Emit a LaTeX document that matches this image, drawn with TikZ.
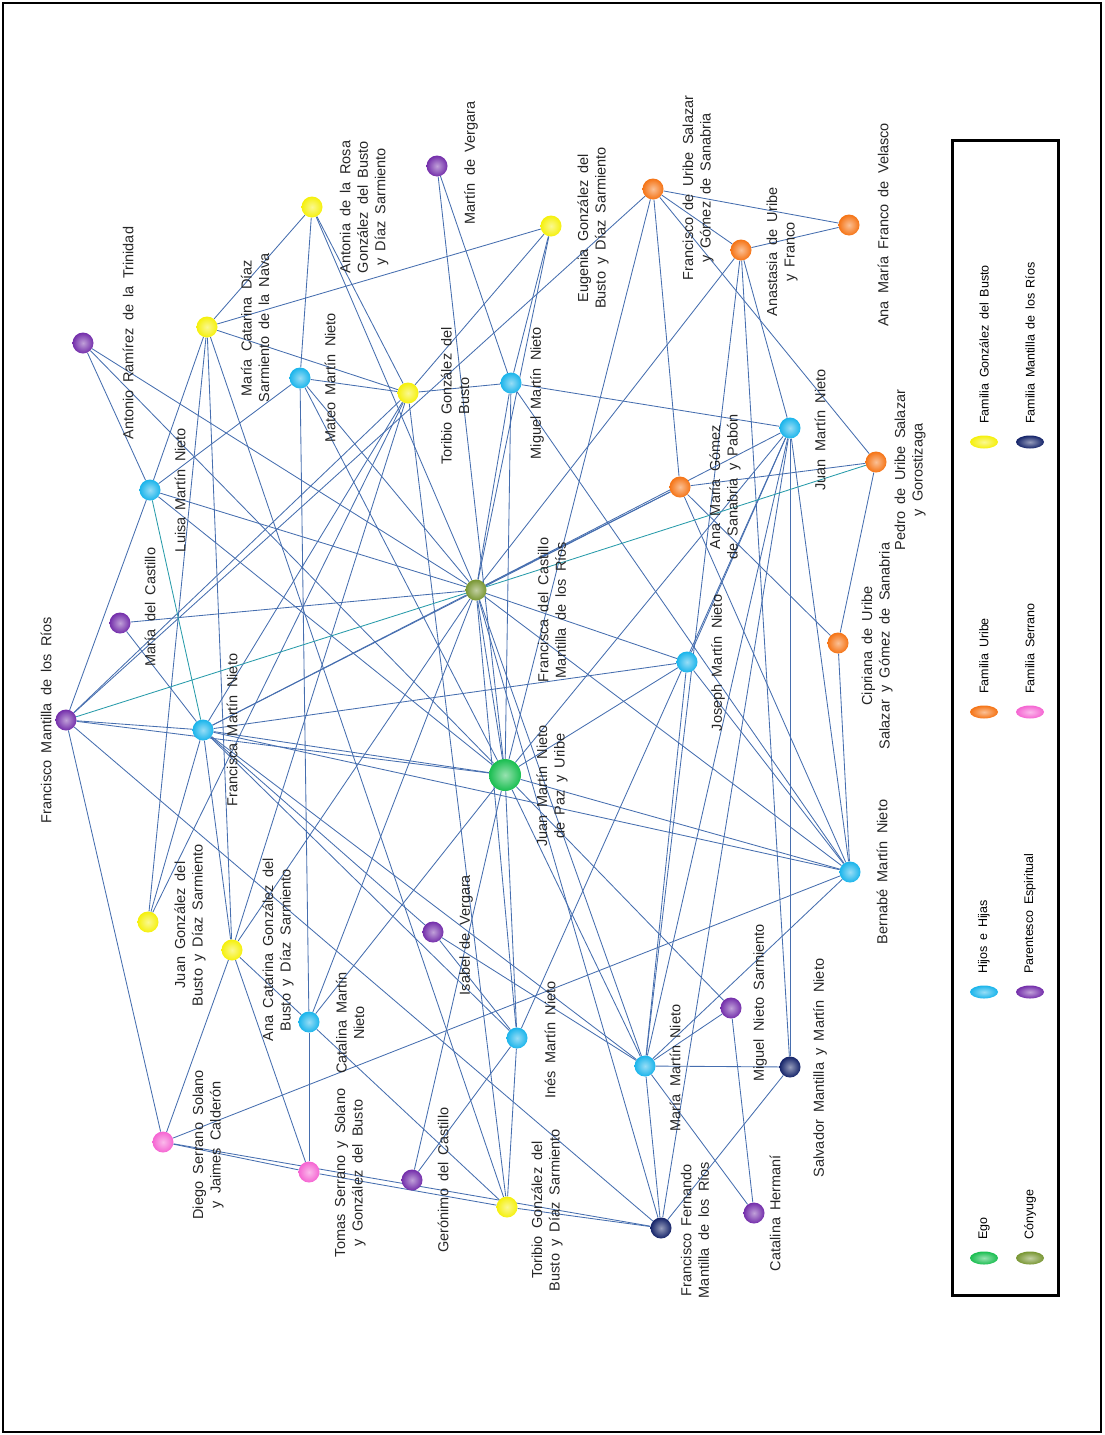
\documentclass[tikz,border=0pt]{standalone}
\usepackage{fontspec}
\setmainfont{Liberation Sans}
\usetikzlibrary{shapes.geometric}

\definecolor{egocol}{RGB}{25,190,80}
\definecolor{spousecol}{RGB}{120,150,50}
\definecolor{kidcol}{RGB}{25,180,235}
\definecolor{godcol}{RGB}{115,45,170}
\definecolor{uribecol}{RGB}{245,115,20}
\definecolor{serranocol}{RGB}{245,100,210}
\definecolor{bustocol}{RGB}{245,240,10}
\definecolor{mantillacol}{RGB}{20,35,105}
\definecolor{linkcol}{RGB}{70,110,175}
\definecolor{tealcol}{RGB}{40,155,170}

\pgfdeclarelayer{bg}
\pgfsetlayers{bg,main}

\begin{document}
\begin{tikzpicture}[x=1pt, y=-1pt, font={\fontsize{14.5}{17.5}\selectfont\spaceskip=0.5em\relax},
  person/.style={circle, inner sep=0pt, minimum size=21pt, shading=radial, inner color=#1!45!white, outer color=#1},
  lbl/.style={rotate=90, align=center, inner sep=0pt, text=black!85},
  link/.style={draw=linkcol, line width=0.85pt},
  tlink/.style={draw=tealcol, line width=0.85pt},
  legball/.style={ellipse, inner sep=0pt, minimum width=28pt, minimum height=13pt, shading=radial, inner color=#1!45!white, outer color=#1},
  legtext/.style={rotate=90, anchor=west, inner sep=0pt, font={\fontsize{12.5}{14}\selectfont\spaceskip=0.45em\relax}}]

  \useasboundingbox (0,0) rectangle (1104,1435);
  \draw[line width=1.2pt] (3,3) rectangle (1101,1432);

  % people
  \node[person=egocol, minimum size=32pt] (ego) at (505,775) {};
  \node[person=spousecol] (wife) at (476,590) {};
  \node[person=godcol] (fmr) at (66,720) {};
  \node[person=godcol] (mdc) at (120,623) {};
  \node[person=kidcol] (lmn) at (150,490) {};
  \node[person=godcol] (arz) at (83,343) {};
  \node[person=bustocol] (mcd) at (207,327) {};
  \node[person=bustocol] (ars) at (312,207) {};
  \node[person=godcol] (mdv) at (437,166) {};
  \node[person=kidcol] (mmn) at (300,378) {};
  \node[person=bustocol] (tgb) at (408,393) {};
  \node[person=kidcol] (mimn) at (511,383) {};
  \node[person=bustocol] (egb) at (551,226) {};
  \node[person=uribecol] (fus) at (653,189) {};
  \node[person=uribecol] (aduf) at (741,250) {};
  \node[person=uribecol] (amf) at (849,225) {};
  \node[person=kidcol] (jmn) at (790,428) {};
  \node[person=uribecol] (pus) at (876,462) {};
  \node[person=uribecol] (amg) at (680,487) {};
  \node[person=uribecol] (cus) at (838,643) {};
  \node[person=kidcol] (jomn) at (687,662) {};
  \node[person=kidcol] (bmn) at (850,872) {};
  \node[person=kidcol] (fmn) at (203,730) {};
  \node[person=bustocol] (jgb) at (148,922) {};
  \node[person=bustocol] (acg) at (232,950) {};
  \node[person=kidcol] (cmn) at (309,1022) {};
  \node[person=godcol] (isv) at (433,932) {};
  \node[person=kidcol] (imn) at (517,1038) {};
  \node[person=serranocol] (dss) at (163,1142) {};
  \node[person=serranocol] (tss) at (309,1172) {};
  \node[person=godcol] (gdc) at (412,1180) {};
  \node[person=bustocol] (tgb2) at (507,1207) {};
  \node[person=kidcol] (mamn) at (645,1066) {};
  \node[person=godcol] (mns) at (731,1008) {};
  \node[person=mantillacol] (smm) at (790,1067) {};
  \node[person=godcol] (ch) at (754,1213) {};
  \node[person=mantillacol] (ffm) at (661,1228) {};

  % names
  \node[lbl] (l-ego) at (552,786) {Juan Martín Nieto\\de Paz y Uribe};
  \node[lbl] (l-wife) at (552,610) {Francisca del Castillo\\Mantilla de los Ríos};
  \node[lbl] (l-fmr) at (46,720) {Francisco Mantilla de los Ríos};
  \node[lbl] (l-mdc) at (150,607) {María del Castillo};
  \node[lbl] (l-lmn) at (180,490) {Luisa Martín Nieto};
  \node[lbl] (l-arz) at (128,333) {Antonio Ramírez de la Trinidad};
  \node[lbl] (l-mcd) at (255,328) {María Catarina Díaz\\Sarmiento de la Nava};
  \node[lbl] (l-ars) at (364,207) {Antonia de la Rosa\\González del Busto\\y Díaz Sarmiento};
  \node[lbl] (l-mdv) at (471,163) {Martín de Vergara};
  \node[lbl] (l-mmn) at (330,378) {Mateo Martín Nieto};
  \node[lbl] (l-tgb) at (455,396) {Toribio González del\\Busto};
  \node[lbl] (l-mimn) at (537,393) {Miguel Martín Nieto};
  \node[lbl] (l-egb) at (593,228) {Eugenia González del\\Busto y Díaz Sarmiento};
  \node[lbl] (l-fus) at (698,188) {Francisco de Uribe Salazar\\y Gómez de Sanabria};
  \node[lbl] (l-aduf) at (782,252) {Anastasia de Uribe\\y Franco};
  \node[lbl] (l-amf) at (883,225) {Ana María Franco de Velasco};
  \node[lbl] (l-jmn) at (820,430) {Juan Martín Nieto};
  \node[lbl] (l-pus) at (910,470) {Pedro de Uribe Salazar\\y Gorostizaga};
  \node[lbl] (l-amg) at (725,487) {Ana María Gómez\\de Sanabria y Pabón};
  \node[lbl] (l-cus) at (877,646) {Cipriana de Uribe\\Salazar y Gómez de Sanabria};
  \node[lbl] (l-jomn) at (718,663) {Joseph Martín Nieto};
  \node[lbl] (l-bmn) at (882,872) {Bernabé Martín Nieto};
  \node[lbl] (l-fmn) at (232,730) {Francisca Martín Nieto};
  \node[lbl] (l-jgb) at (190,925) {Juan González del\\Busto y Díaz Sarmiento};
  \node[lbl] (l-acg) at (278,950) {Ana Catarina González del\\Busto y Díaz Sarmiento};
  \node[lbl] (l-cmn) at (350,1023) {Catalina Martín\\Nieto};
  \node[lbl] (l-isv) at (466,935) {Isabel de Vergara};
  \node[lbl] (l-imn) at (550,1040) {Inés Martín Nieto};
  \node[lbl] (l-dss) at (208,1145) {Diego Serrano Solano\\y Jaimes Calderón};
  \node[lbl] (l-tss) at (350,1173) {Tomas Serrano y Solano\\y González del Busto};
  \node[lbl] (l-gdc) at (443,1180) {Gerónimo del Castillo};
  \node[lbl] (l-tgb2) at (547,1210) {Toribio González del\\Busto y Díaz Sarmiento};
  \node[lbl] (l-mamn) at (675,1068) {María Martín Nieto};
  \node[lbl] (l-mns) at (760,1003) {Miguel Nieto Sarmiento};
  \node[lbl] (l-smm) at (820,1068) {Salvador Mantilla y Martín Nieto};
  \node[lbl] (l-ch) at (775,1213) {Catalina Hermaní};
  \node[lbl] (l-ffm) at (695,1230) {Francisco Fernando\\Mantilla de los Ríos};

  % ties
  \begin{pgfonlayer}{bg}
    \foreach \a/\b in {ego/wife,ego/fmn,ego/lmn,ego/mmn,ego/mimn,ego/jmn,ego/jomn,ego/bmn,
        ego/mamn,ego/imn,ego/cmn,ego/fus,ego/arz,ego/mns,ego/gdc,ego/mdv,ego/fmr,
        wife/fmn,wife/lmn,wife/mmn,wife/mimn,wife/jmn,wife/jomn,wife/bmn,wife/mamn,
        wife/imn,wife/cmn,wife/mdc,wife/arz,wife/ars,wife/egb,wife/amg,wife/aduf,wife/ffm,
        wife/acg,arz/lmn,mdc/fmn,fmr/fmn,fmr/lmn,fmr/dss,fmr/ffm,fmr/tgb,fmr/fus,
        mdv/mimn,isv/imn,isv/mamn,isv/fmn,gdc/imn,cmn/tgb2,mns/mamn,mns/ch,ch/mamn,
        lmn/mcd,lmn/mmn,fmn/jomn,fmn/bmn,fmn/amg,fmn/jgb,fmn/acg,fmn/imn,fmn/mamn,
        mmn/ars,mmn/tgb,tgb/mimn,mmn/cmn,tgb/mcd,tgb/ars,tgb/egb,tgb/fmn,tgb/jgb,
        tgb/acg,tgb/tgb2,mcd/jgb,mcd/acg,mcd/tgb2,mcd/egb,mcd/ars,egb/mimn,mimn/jmn,
        mimn/bmn,jomn/bmn,jomn/jmn,jomn/mamn,bmn/jmn,bmn/cus,bmn/dss,bmn/mamn,bmn/amg,
        cus/amg,cus/pus,pus/amg,pus/fus,fus/amf,fus/aduf,fus/amg,amf/aduf,aduf/jmn,
        aduf/mamn,aduf/smm,jmn/smm,jmn/mamn,jmn/ffm,jmn/imn,smm/mamn,smm/ffm,ffm/mamn,
        ffm/tgb2,ffm/dss,imn/tgb2,cmn/tss,cmn/acg,acg/dss,acg/tss,dss/tss,tss/tgb2} {
      \draw[link] (\a) -- (\b);
    }
    \foreach \a/\b in {wife/fmr,wife/pus,lmn/fmn} {
      \draw[tlink] (\a) -- (\b);
    }
  \end{pgfonlayer}

  % legend
  \draw[line width=3pt] (952,140) rectangle (1058,1295);
  \node[legball=egocol] (k-ego) at (984,1258) {};
  \node[legball=spousecol] (k-wife) at (1030,1258) {};
  \node[legball=kidcol] (k-kid) at (984,992) {};
  \node[legball=godcol] (k-god) at (1030,992) {};
  \node[legball=uribecol] (k-uribe) at (984,712) {};
  \node[legball=serranocol] (k-serrano) at (1030,712) {};
  \node[legball=bustocol] (k-busto) at (984,442) {};
  \node[legball=mantillacol] (k-mantilla) at (1030,442) {};
  \node[legtext] at (984,1240) {Ego};
  \node[legtext] at (1030,1240) {Cónyuge};
  \node[legtext] at (984,974) {Hijos e Hijas};
  \node[legtext] at (1030,974) {Parentesco Espiritual};
  \node[legtext] at (984,694) {Familia Uribe};
  \node[legtext] at (1030,694) {Familia Serrano};
  \node[legtext] at (984,424) {Familia González del Busto};
  \node[legtext] at (1030,424) {Familia Mantilla de los Ríos};
\end{tikzpicture}
\end{document}
